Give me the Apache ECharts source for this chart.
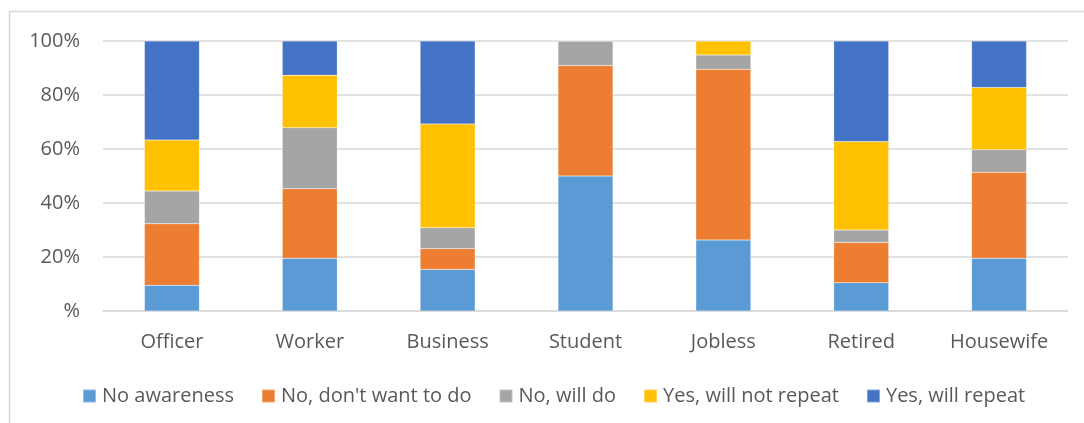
<!DOCTYPE html>
<html>
<head>
<meta charset="utf-8">
<style>
  html, body { margin: 0; padding: 0; background: #ffffff; }
  #chart { width: 1084px; height: 423px; }
</style>
<script src="https://cdn.jsdelivr.net/npm/echarts@6/dist/echarts.min.js"></script>
</head>
<body>
<div id="chart"></div>
<script>
// Respondent groups along the category axis
const categories = ['Officer', 'Worker', 'Business', 'Student', 'Jobless', 'Retired', 'Housewife'];

// Share of each answer within a group (percent)
const noAwareness    = [9.5, 19.5, 15.4, 50.0, 26.3, 10.5, 19.5];
const noDontWant     = [22.8, 25.8, 7.7, 40.9, 63.2, 14.9, 31.9];
const noWillDo       = [12.1, 22.6, 7.7, 9.1, 5.3, 4.6, 8.3];
const yesNotRepeat   = [18.9, 19.4, 38.5, 0, 5.2, 32.8, 23.1];
const yesWillRepeat  = [36.7, 12.7, 30.7, 0, 0, 37.2, 17.2];

const seriesNames = ['No awareness', "No, don't want to do", 'No, will do', 'Yes, will not repeat', 'Yes, will repeat'];
const seriesValues = [noAwareness, noDontWant, noWillDo, yesNotRepeat, yesWillRepeat];
const seriesColors = ['#5B9BD5', '#ED7D31', '#A5A5A5', '#FFC000', '#4472C4'];

// Value axis ticks
const yTicks = [0, 20, 40, 60, 80, 100];

const textColor = '#595959';
const fontFamily = '"Open Sans", "Noto Sans", sans-serif';

const chart = echarts.init(document.getElementById('chart'), null, { renderer: 'canvas' });

chart.setOption({
  backgroundColor: '#ffffff',
  animation: false,
  textStyle: { fontFamily: fontFamily },
  graphic: [{
    type: 'rect',
    silent: true,
    z: -1,
    shape: { x: 9.5, y: 11.5, width: 1100, height: 440 },
    style: { fill: 'none', stroke: '#D9D9D9', lineWidth: 1.5 }
  }],
  grid: { left: 103, right: 16, top: 41, bottom: 112, containLabel: false },
  legend: {
    data: seriesNames,
    left: 77,
    top: 381,
    itemWidth: 13,
    itemHeight: 13,
    itemGap: 27,
    icon: 'rect',
    textStyle: { color: textColor, fontSize: 20, fontFamily: fontFamily, padding: [0, 0, 0, 1] }
  },
  xAxis: {
    type: 'category',
    data: categories,
    axisLine: { show: true, lineStyle: { color: '#D9D9D9', width: 1.5 } },
    axisTick: { show: false },
    axisLabel: { color: textColor, fontSize: 20, fontFamily: fontFamily, margin: 21 }
  },
  yAxis: {
    type: 'value',
    min: yTicks[0],
    max: yTicks[yTicks.length - 1],
    interval: yTicks[1] - yTicks[0],
    axisLine: { show: false },
    axisTick: { show: false },
    splitLine: { lineStyle: { color: '#D9D9D9', width: 1.5 } },
    axisLabel: {
      color: textColor,
      fontSize: 20,
      fontFamily: fontFamily,
      margin: 23,
      formatter: function (v) { return v === 0 ? '%' : v + '%'; }
    }
  },
  series: seriesNames.map(function (name, i) {
    return {
      name: name,
      type: 'bar',
      stack: 'total',
      barWidth: 55,
      data: seriesValues[i],
      itemStyle: { color: seriesColors[i], borderColor: 'rgba(255,255,255,0.35)', borderWidth: 0.5 }
    };
  })
});
</script>
</body>
</html>
